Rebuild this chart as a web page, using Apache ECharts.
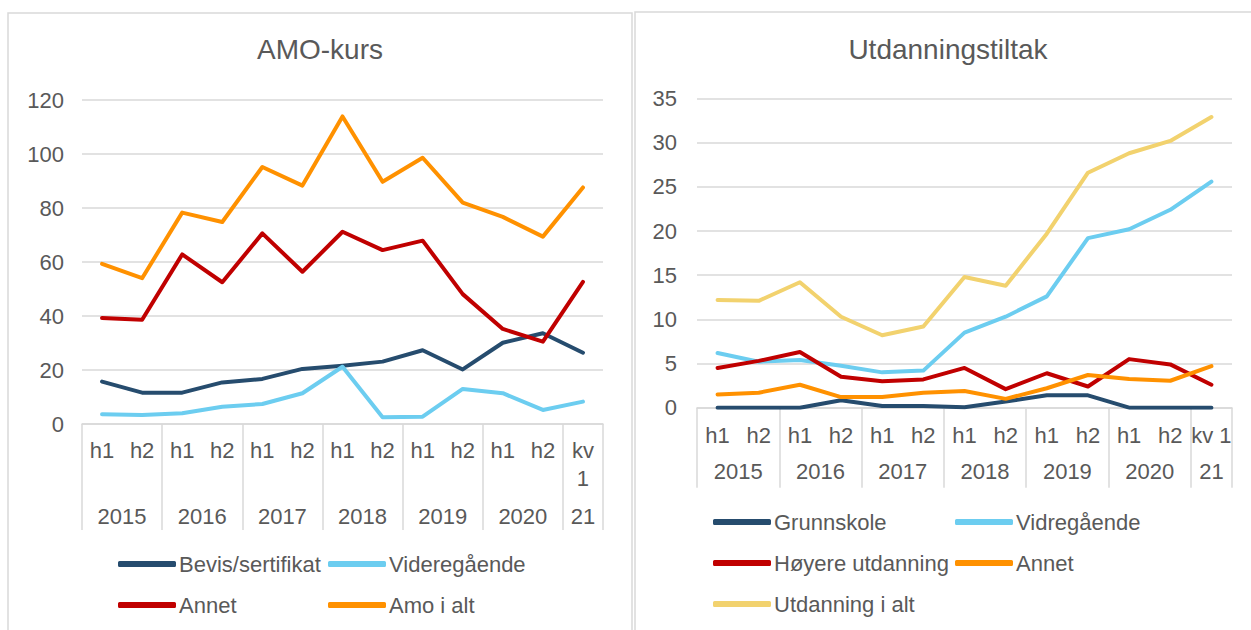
<!DOCTYPE html>
<html>
<head>
<meta charset="utf-8">
<script src="https://cdn.jsdelivr.net/npm/echarts@6/dist/echarts.min.js"></script>
<style>
html,body{margin:0;padding:0;background:#fff;}
#c{width:1251px;height:630px;}
</style>
</head>
<body>
<div id="c"></div>
<script>
// ---- Data ----
const catsLeft = ['h1','h2','h1','h2','h1','h2','h1','h2','h1','h2','h1','h2','kv\n1'];
const catsRight = ['h1','h2','h1','h2','h1','h2','h1','h2','h1','h2','h1','h2','kv 1'];
const yearTicks = [1, 3, 5, 7, 9, 11, 12.5];
const yearLabels = ['2015','2016','2017','2018','2019','2020','21'];
const groupBounds = [0, 2, 4, 6, 8, 10, 12, 13];

// AMO-kurs
const bevis = [15.7, 11.6, 11.6, 15.4, 16.7, 20.4, 21.6, 23.1, 27.3, 20.2, 30.1, 33.6, 26.4];
const videregaende = [3.6, 3.3, 4.0, 6.4, 7.4, 11.4, 21.2, 2.5, 2.7, 13.0, 11.4, 5.2, 8.3];
const annetAmo = [39.3, 38.6, 62.8, 52.5, 70.6, 56.4, 71.2, 64.4, 67.9, 48.1, 35.2, 30.5, 52.6];
const amoIAlt = [59.3, 54.0, 78.3, 74.8, 95.2, 88.3, 113.9, 89.7, 98.6, 82.0, 76.7, 69.4, 87.6];

// Utdanningstiltak
const grunnskole = [0, 0, 0, 0.85, 0.2, 0.2, 0.05, 0.7, 1.4, 1.4, 0, 0, 0];
const vidregaende = [6.2, 5.2, 5.4, 4.75, 4.0, 4.2, 8.5, 10.3, 12.6, 19.2, 20.2, 22.4, 25.6];
const hoyere = [4.5, 5.3, 6.3, 3.5, 3.0, 3.2, 4.5, 2.1, 3.9, 2.4, 5.5, 4.9, 2.6];
const annetUtd = [1.5, 1.7, 2.6, 1.2, 1.2, 1.7, 1.9, 1.0, 2.2, 3.7, 3.25, 3.05, 4.7];
const utdIAlt = [12.2, 12.1, 14.2, 10.3, 8.2, 9.2, 14.8, 13.8, 19.7, 26.6, 28.8, 30.2, 32.9];

// ---- Styles ----
const txt = '#595959';
const gridCol = '#d9d9d9';
const font = 'Liberation Sans, Arial, sans-serif';
const C = {navy:'#264C6E', blue:'#6CCDF0', red:'#C00000', orange:'#FF9100', yellow:'#F2D26E'};

function line(name, data, color, gi) {
  return {
    name: name, type: 'line', data: data, xAxisIndex: gi * 2, yAxisIndex: gi,
    symbol: 'none', smooth: false,
    lineStyle: {color: color, width: 4, cap: 'round', join: 'round'},
    itemStyle: {color: color},
    emphasis: {disabled: true}
  };
}

function catAxis(gi, cats, margin) {
  return {
    type: 'category', gridIndex: gi, data: cats, boundaryGap: true,
    axisLine: {show: true, lineStyle: {color: gridCol, width: 1.5}},
    axisTick: {show: false},
    axisLabel: {interval: 0, color: txt, fontSize: 22, fontFamily: font, lineHeight: 28, margin: margin}
  };
}
function grpAxis(gi, tickLen, margin) {
  return {
    type: 'value', gridIndex: gi, min: 0, max: 13, position: 'bottom',
    axisLine: {show: false},
    splitLine: {show: false},
    axisTick: {show: true, customValues: groupBounds, length: tickLen, lineStyle: {color: gridCol, width: 1.5}},
    axisLabel: {
      customValues: yearTicks, color: txt, fontSize: 22, fontFamily: font, lineHeight: 28, margin: margin,
      formatter: function (v) { const i = yearTicks.indexOf(v); return i >= 0 ? yearLabels[i] : ''; }
    }
  };
}
function valAxis(gi, max, interval, margin) {
  return {
    type: 'value', gridIndex: gi, min: 0, max: max, interval: interval,
    axisLine: {show: false}, axisTick: {show: false},
    splitLine: {show: true, lineStyle: {color: gridCol, width: 1.5}},
    axisLabel: {color: txt, fontSize: 22, fontFamily: font, margin: margin}
  };
}
function legend(names, left, top) {
  return {
    data: names, left: left, top: top, orient: 'vertical', padding: 0,
    itemWidth: 58, itemHeight: 6, itemGap: 19, icon: 'roundRect',
    selectedMode: false,
    formatter: function (n) { return n.replace(' (utd)', ''); },
    textStyle: {color: txt, fontSize: 22, fontFamily: font, lineHeight: 22, padding: [0, 0, 0, -2]}
  };
}

const chart = echarts.init(document.getElementById('c'), null, {renderer: 'svg'});
chart.setOption({
  animation: false,
  title: [
    {text: 'AMO-kurs', left: 320, top: 35, textAlign: 'center', padding: 0,
     textStyle: {color: txt, fontSize: 28, fontWeight: 'normal', fontFamily: font}},
    {text: 'Utdanningstiltak', left: 948, top: 35, textAlign: 'center', padding: 0,
     textStyle: {color: txt, fontSize: 28, fontWeight: 'normal', fontFamily: font}}
  ],
  graphic: [
    {type: 'rect', shape: {x: 8, y: 13, width: 624, height: 640}, style: {fill: 'none', stroke: gridCol, lineWidth: 1.5}, silent: true},
    {type: 'rect', shape: {x: 635, y: 12, width: 630, height: 640}, style: {fill: 'none', stroke: gridCol, lineWidth: 1.5}, silent: true}
  ],
  grid: [
    {left: 82, right: 648, top: 100, bottom: 206},
    {left: 697, right: 19, top: 98.5, bottom: 222.3}
  ],
  xAxis: [
    catAxis(0, catsLeft, 12), grpAxis(0, 106, 78),
    catAxis(1, catsRight, 14), grpAxis(1, 80, 50)
  ],
  yAxis: [valAxis(0, 120, 20, 18), valAxis(1, 35, 5, 20)],
  legend: [
    legend(['Bevis/sertifikat', 'Annet'], 118, 553),
    legend(['Videregående', 'Amo i alt'], 328, 553),
    legend(['Grunnskole', 'Høyere utdanning', 'Utdanning i alt'], 713, 511),
    legend(['Vidregående', 'Annet (utd)'], 955, 511)
  ],
  series: [
    line('Bevis/sertifikat', bevis, C.navy, 0),
    line('Videregående', videregaende, C.blue, 0),
    line('Annet', annetAmo, C.red, 0),
    line('Amo i alt', amoIAlt, C.orange, 0),
    line('Grunnskole', grunnskole, C.navy, 1),
    line('Vidregående', vidregaende, C.blue, 1),
    line('Høyere utdanning', hoyere, C.red, 1),
    line('Annet (utd)', annetUtd, C.orange, 1),
    line('Utdanning i alt', utdIAlt, C.yellow, 1)
  ]
});
</script>
</body>
</html>
